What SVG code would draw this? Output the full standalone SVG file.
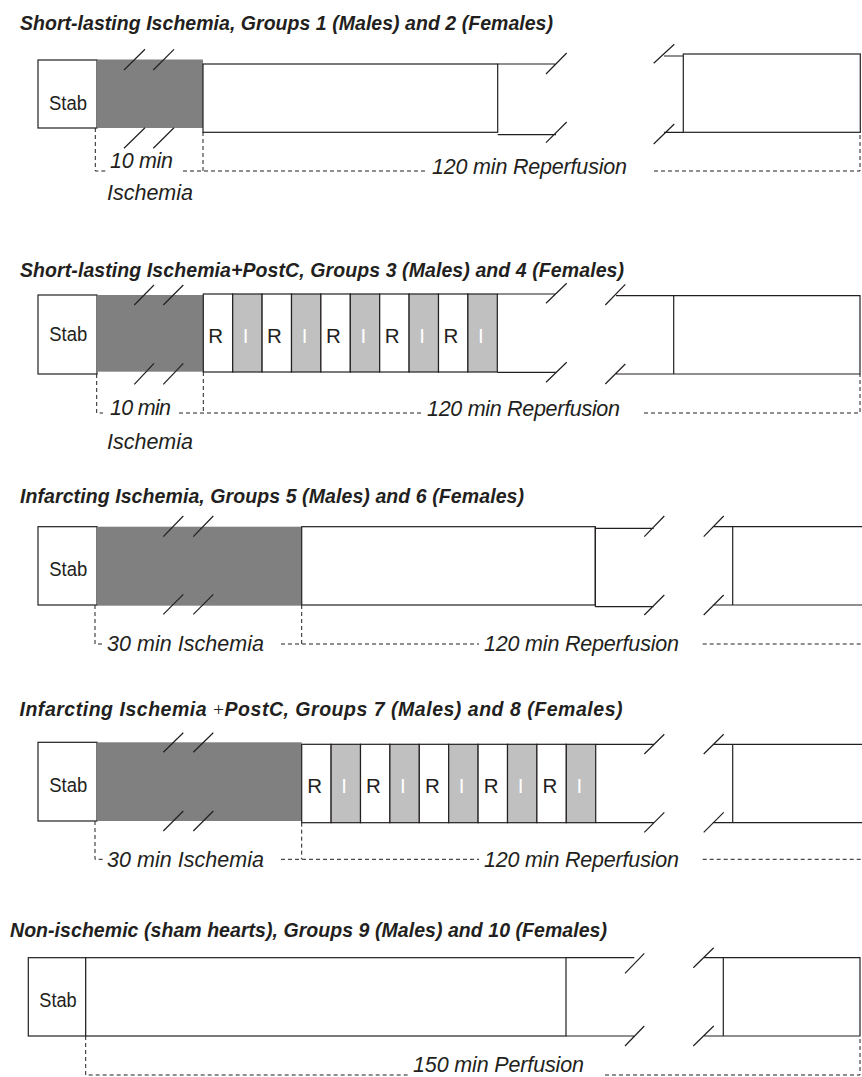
<svg xmlns="http://www.w3.org/2000/svg" width="862" height="1077" viewBox="0 0 862 1077">
<style>
.bg{fill:#fff}
.box{fill:#fff;stroke:#231f20;stroke-width:1.2}
.dark{fill:#808080}
.light{fill:#c0c0c0;stroke:#231f20;stroke-width:1.2}
.ln{fill:none;stroke:#231f20;stroke-width:1.2}
.dash{fill:none;stroke:#231f20;stroke-width:1;stroke-dasharray:4 3}
text{font-family:"Liberation Sans",Arial,sans-serif;fill:#231f20}
.title{font-weight:bold;font-style:italic;font-size:19.5px}
.lbl{font-style:italic;font-size:21.5px}
.stab{font-size:20px}
.r{font-size:20.5px}
.i{font-size:20.5px;fill:#fff}
.plus{font-family:"Liberation Serif",serif;font-style:normal;font-weight:normal}
</style>
<rect class="bg" x="0" y="0" width="862" height="1077"/>

<!-- Section 1 -->
<g id="title1"><text class="title" x="20" y="30" textLength="533">Short-lasting Ischemia, Groups 1 (Males) and 2 (Females)</text></g>
<g id="s1-stab"><rect class="box" x="38" y="60" width="59" height="68"/><text class="stab" x="49" y="110" textLength="38" lengthAdjust="spacingAndGlyphs">Stab</text></g>
<g id="s1-ischemia"><rect class="dark" x="97" y="59.5" width="106" height="68.5"/>
<path class="ln" d="M124 70 L145 49.3 M153.3 70 L174 49.3 M124 148.3 L145 127.7 M153.3 148.3 L174 127.7"/></g>
<g id="s1-reperfusion"><rect class="box" x="203" y="64" width="294.7" height="68.3"/>
<path class="ln" d="M497.7 64 H556 M497.7 134.7 H556 M546 74 L566.7 53 M546 142.7 L566.7 122"/></g>
<g id="s1-reperfusion-end"><path class="ln" d="M653.7 63.3 L674.3 44.3 M664 56 H683 M653.7 144 L674.3 124 M664 132.3 H683"/>
<rect class="box" x="683.3" y="54" width="177" height="78.3"/></g>
<g id="s1-labels">
<text class="lbl" x="110" y="168" textLength="63">10 min</text>
<text class="lbl" x="107" y="200" textLength="86">Ischemia</text>
<text class="lbl" x="432" y="174" textLength="195">120 min Reperfusion</text>
</g>

<!-- Section 2 -->
<g id="title2"><text class="title" x="20" y="277" textLength="604">Short-lasting Ischemia+PostC, Groups 3 (Males) and 4 (Females)</text></g>
<g id="s2-stab"><rect class="box" x="38" y="295" width="59" height="79"/><text class="stab" x="49.3" y="341" textLength="38" lengthAdjust="spacingAndGlyphs">Stab</text></g>
<g id="s2-ischemia"><rect class="dark" x="97" y="295" width="106.3" height="76.7"/>
<path class="ln" d="M134.3 305 L154 285 M163.3 305 L183.3 285 M134.3 384.3 L154 363.3 M163.3 384.3 L183.3 363.3"/></g>
<g id="s2-postc">
<rect class="box" x="203.3" y="294" width="29.4" height="78"/><text class="r" x="208.3" y="343">R</text>
<rect class="light" x="232.7" y="294" width="29.4" height="78"/><text class="i" x="245.7" y="343" text-anchor="middle">I</text>
<rect class="box" x="262.1" y="294" width="29.4" height="78"/><text class="r" x="267.1" y="343">R</text>
<rect class="light" x="291.5" y="294" width="29.4" height="78"/><text class="i" x="304.5" y="343" text-anchor="middle">I</text>
<rect class="box" x="320.9" y="294" width="29.4" height="78"/><text class="r" x="325.9" y="343">R</text>
<rect class="light" x="350.3" y="294" width="29.4" height="78"/><text class="i" x="363.3" y="343" text-anchor="middle">I</text>
<rect class="box" x="379.7" y="294" width="29.4" height="78"/><text class="r" x="384.7" y="343">R</text>
<rect class="light" x="409.1" y="294" width="29.4" height="78"/><text class="i" x="422.1" y="343" text-anchor="middle">I</text>
<rect class="box" x="438.5" y="294" width="29.4" height="78"/><text class="r" x="443.5" y="343">R</text>
<rect class="light" x="467.9" y="294" width="29.4" height="78"/><text class="i" x="480.9" y="343" text-anchor="middle">I</text>
</g>
<g id="s2-reperfusion"><path class="ln" d="M497.3 294 H556 M497.3 372.3 H556 M546 303.3 L566.7 283.3 M546 382.3 L566.7 362.3"/></g>
<g id="s2-reperfusion-end"><path class="ln" d="M605.3 305 L625.3 284.3 M616 295.7 H860 V374 H616 M605.3 384 L625.3 364 M673.7 295.7 V374"/></g>
<g id="s2-labels">
<text class="lbl" x="110" y="415" textLength="61">10 min</text>
<text class="lbl" x="107" y="449" textLength="86">Ischemia</text>
<text class="lbl" x="427" y="416" textLength="193">120 min Reperfusion</text>
</g>

<!-- Section 3 -->
<g id="title3"><text class="title" x="20" y="503" textLength="504">Infarcting Ischemia, Groups 5 (Males) and 6 (Females)</text></g>
<g id="s3-stab"><rect class="box" x="38" y="526.7" width="59" height="78.3"/><text class="stab" x="49.3" y="576" textLength="38" lengthAdjust="spacingAndGlyphs">Stab</text></g>
<g id="s3-ischemia"><rect class="dark" x="97" y="526.7" width="204.7" height="79"/>
<path class="ln" d="M163.3 536.7 L183.3 516 M193.3 536.7 L213.3 516 M163.3 614.3 L183.3 594.3 M193.3 614.3 L213.3 594.3"/></g>
<g id="s3-reperfusion"><rect class="box" x="301.7" y="526.7" width="293.6" height="78.3"/>
<path class="ln" d="M595.3 526.7 V606.7 M595.3 528.3 H653.7 M595.3 606.7 H653.7 M644.3 536.7 L664.3 516 M644.3 615 L664.3 595"/></g>
<g id="s3-reperfusion-end"><path class="ln" d="M703.7 536.7 L723.7 516 M703.7 615 L723.7 595 M712.7 526.7 H862 M712.7 605 H862 M732.7 526.7 V605"/></g>
<g id="s3-labels">
<text class="lbl" x="107" y="651" textLength="157">30 min Ischemia</text>
<text class="lbl" x="484" y="651" textLength="195">120 min Reperfusion</text>
</g>

<!-- Section 4 -->
<g id="title4"><text class="title" x="19.5" y="716" textLength="603">Infarcting Ischemia <tspan class="plus">+</tspan>PostC, Groups 7 (Males) and 8 (Females)</text></g>
<g id="s4-stab"><rect class="box" x="38" y="742.3" width="59" height="78.7"/><text class="stab" x="49.3" y="792" textLength="38" lengthAdjust="spacingAndGlyphs">Stab</text></g>
<g id="s4-ischemia"><rect class="dark" x="97" y="742.3" width="204.7" height="78.7"/>
<path class="ln" d="M163.3 752.3 L183.3 732.7 M193.3 752.3 L213.3 732.7 M163.3 831 L183.3 811 M193.3 831 L213.3 811"/></g>
<g id="s4-postc">
<rect class="box" x="301.7" y="744.3" width="29.4" height="78.4"/><text class="r" x="307.3" y="793">R</text>
<rect class="light" x="331.1" y="744.3" width="29.4" height="78.4"/><text class="i" x="344.1" y="793" text-anchor="middle">I</text>
<rect class="box" x="360.5" y="744.3" width="29.4" height="78.4"/><text class="r" x="366.1" y="793">R</text>
<rect class="light" x="389.9" y="744.3" width="29.4" height="78.4"/><text class="i" x="402.9" y="793" text-anchor="middle">I</text>
<rect class="box" x="419.3" y="744.3" width="29.4" height="78.4"/><text class="r" x="424.9" y="793">R</text>
<rect class="light" x="448.7" y="744.3" width="29.4" height="78.4"/><text class="i" x="461.7" y="793" text-anchor="middle">I</text>
<rect class="box" x="478.1" y="744.3" width="29.4" height="78.4"/><text class="r" x="483.7" y="793">R</text>
<rect class="light" x="507.5" y="744.3" width="29.4" height="78.4"/><text class="i" x="520.5" y="793" text-anchor="middle">I</text>
<rect class="box" x="536.9" y="744.3" width="29.4" height="78.4"/><text class="r" x="542.5" y="793">R</text>
<rect class="light" x="566.3" y="744.3" width="29.4" height="78.4"/><text class="i" x="579.3" y="793" text-anchor="middle">I</text>
</g>
<g id="s4-reperfusion"><path class="ln" d="M595.7 744.3 H653.7 M595.7 822.7 H653.7 M644.3 754 L664.3 734.3 M644.3 832.3 L664.3 812.3"/></g>
<g id="s4-reperfusion-end"><path class="ln" d="M703.7 754 L723.7 734.3 M703.7 832.3 L723.7 812.3 M712.7 744.3 H862 M712.7 822.7 H862 M732.7 744.3 V822.7"/></g>
<g id="s4-labels">
<text class="lbl" x="107" y="866.7" textLength="157">30 min Ischemia</text>
<text class="lbl" x="484" y="866.7" textLength="195">120 min Reperfusion</text>
</g>

<!-- Section 5 -->
<g id="title5"><text class="title" x="10" y="937" textLength="597">Non-ischemic (sham hearts), Groups 9 (Males) and 10 (Females)</text></g>
<g id="s5-stab"><rect class="box" x="28.3" y="957.7" width="57.4" height="78.3"/><text class="stab" x="39.3" y="1007.3" textLength="37.4" lengthAdjust="spacingAndGlyphs">Stab</text></g>
<g id="s5-perfusion"><rect class="box" x="85.7" y="957.7" width="480.3" height="78.3"/>
<path class="ln" d="M566 957.7 H634.3 M566 1036 H634.3 M625 973.3 L644.3 953.3 M625 1046 L644.3 1026"/></g>
<g id="s5-perfusion-end"><path class="ln" d="M693.3 967.7 L713.7 947.7 M693.3 1046 L713.7 1026 M704.3 957.7 H860 V1036 H704.3 M723.3 957.7 V1036"/></g>
<g id="s5-labels"><text class="lbl" x="413" y="1072" textLength="171">150 min Perfusion</text></g>

<!-- Connectors: dashed timing brackets -->
<g id="connectors">
<path class="dash" d="M95.3 128 V171 H107"/>
<path class="dash" d="M203 132 V171"/>
<path class="dash" d="M183 171 H428"/>
<path class="dash" d="M654 171 H860 V132"/>

<path class="dash" d="M96.7 374 V413 H103"/>
<path class="dash" d="M203.3 372 V413"/>
<path class="dash" d="M179 413 H424"/>
<path class="dash" d="M644 413 H860 V374"/>

<path class="dash" d="M95 605 V644 H103"/>
<path class="dash" d="M301.7 605 V644"/>
<path class="dash" d="M281 644 H479"/>
<path class="dash" d="M702.7 644 H862"/>

<path class="dash" d="M95 821 V859.3 H103"/>
<path class="dash" d="M301.7 822.7 V859.3"/>
<path class="dash" d="M281 859.3 H479"/>
<path class="dash" d="M702.7 859.3 H862"/>

<path class="dash" d="M85.7 1036 V1075 H410"/>
<path class="dash" d="M605 1075 H860 V1036"/>
</g>
</svg>
